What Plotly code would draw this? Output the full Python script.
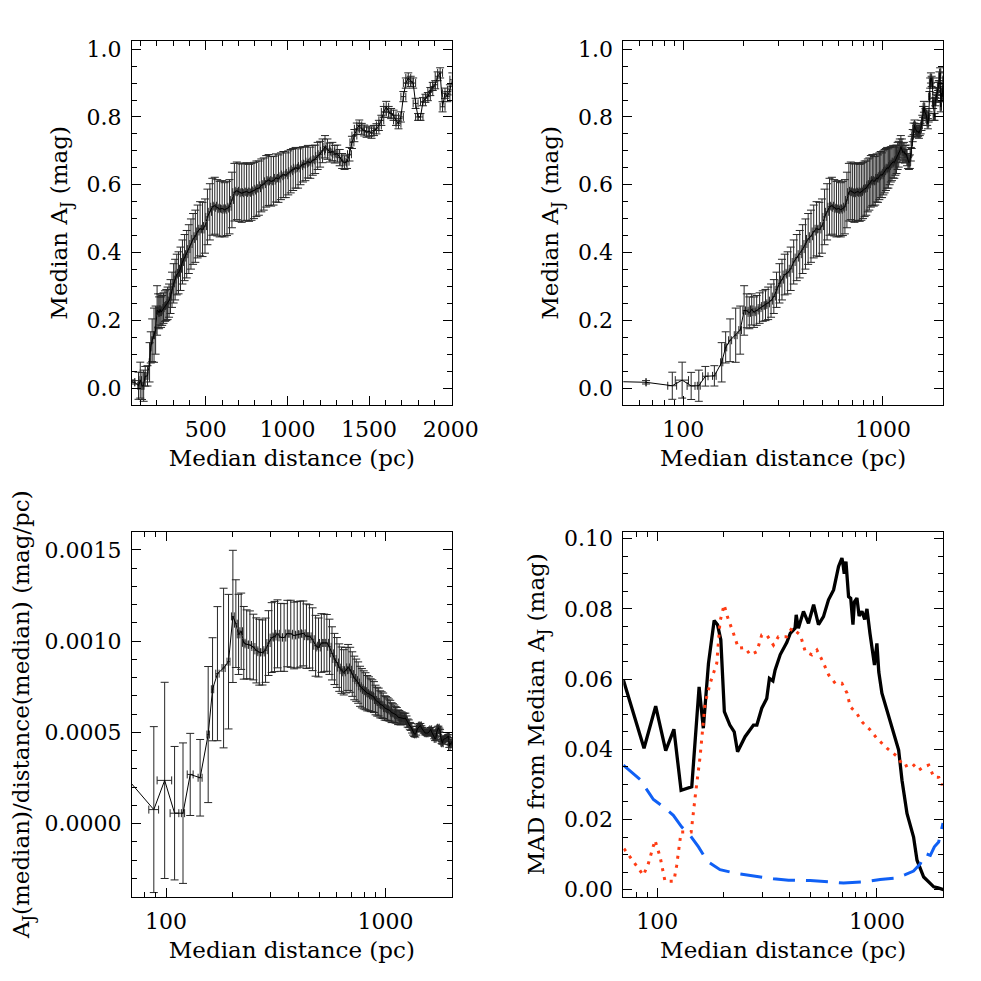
import math
import plotly.graph_objects as go

# ---------------- data: median extinction vs median distance ----------------
dist = [40, 65, 88, 98.6, 109.4, 119.5, 128.9, 143, 155.6, 162.9, 171.5, 182.9, 192.6, 201.6,
        208, 214, 220, 226, 233, 241, 250, 258, 266, 275, 284, 293, 303, 312, 322, 333, 345, 357,
        370, 383, 396, 409, 422, 436, 450, 465, 480, 495,
        510, 525, 540, 555, 570, 585, 600, 615, 630, 645,
        660, 675, 690, 705, 720, 735, 750, 765, 780, 795,
        810, 825, 840, 855, 870, 885, 900, 915, 930, 945,
        960, 975, 990, 1005, 1020, 1035, 1050, 1065, 1080, 1095,
        1110, 1125, 1140, 1155, 1170, 1185, 1200, 1215, 1230, 1245,
        1260, 1275, 1290, 1305, 1320, 1335, 1350, 1365, 1380, 1395,
        1410, 1425, 1440, 1455, 1470, 1485, 1500, 1515, 1530, 1545,
        1560, 1575, 1590, 1605, 1620, 1635, 1650, 1665, 1680, 1695,
        1710, 1725, 1740, 1755, 1770, 1785, 1800, 1815, 1830, 1845,
        1860, 1875, 1890, 1905, 1920, 1935, 1950, 1965, 1980, 1995,
        2010]

aj = [0.020, 0.017, 0.0068, 0.0234, 0.0063, 0.0069, 0.0348, 0.036, 0.076, 0.120, 0.141, 0.156, 0.171, 0.229,
      0.228, 0.222, 0.232, 0.224, 0.229, 0.236, 0.242, 0.245, 0.250, 0.258, 0.270, 0.290, 0.309, 0.320,
      0.335, 0.340, 0.352, 0.372, 0.385, 0.395, 0.410, 0.425, 0.440, 0.448, 0.462, 0.470, 0.468, 0.478,
      0.505, 0.520, 0.535, 0.538, 0.532, 0.528, 0.530, 0.526, 0.530, 0.535,
      0.555, 0.578, 0.582, 0.578, 0.575, 0.578, 0.580, 0.576, 0.579, 0.583,
      0.588, 0.590, 0.598, 0.602, 0.610, 0.614, 0.610, 0.612, 0.620, 0.618,
      0.625, 0.630, 0.628, 0.635, 0.640, 0.645, 0.650, 0.648, 0.655, 0.660,
      0.662, 0.668, 0.665, 0.672, 0.675, 0.685, 0.690, 0.700, 0.712, 0.705,
      0.695, 0.698, 0.690, 0.692, 0.680, 0.670, 0.665, 0.668, 0.690, 0.725,
      0.745, 0.765, 0.775, 0.765, 0.760, 0.755, 0.758, 0.752, 0.760, 0.765,
      0.775, 0.790, 0.815, 0.830, 0.815, 0.810, 0.805, 0.790, 0.780, 0.800,
      0.860, 0.900, 0.915, 0.905, 0.900, 0.840, 0.800, 0.800, 0.845, 0.855,
      0.860, 0.875, 0.890, 0.895, 0.920, 0.930, 0.830, 0.870, 0.860, 0.880,
      0.910]

aj_err = [0.004, 0.005, 0.040, 0.053, 0.040, 0.046, 0.029, 0.030, 0.058, 0.046, 0.063, 0.080, 0.071, 0.073,
          0.050, 0.047, 0.046, 0.045, 0.044, 0.045, 0.045, 0.046, 0.048, 0.049, 0.050, 0.052, 0.058, 0.060,
          0.060, 0.062, 0.064, 0.065, 0.068, 0.070, 0.072, 0.074, 0.075, 0.077, 0.078, 0.080, 0.080, 0.080,
          0.082, 0.083, 0.084, 0.084, 0.083, 0.082, 0.082, 0.080, 0.080, 0.080,
          0.082, 0.085, 0.085, 0.086, 0.086, 0.085, 0.085, 0.084, 0.084, 0.083,
          0.082, 0.080, 0.078, 0.077, 0.076, 0.075, 0.073, 0.072, 0.071, 0.070,
          0.069, 0.068, 0.066, 0.065, 0.064, 0.062, 0.060, 0.058, 0.055, 0.052,
          0.050, 0.048, 0.046, 0.044, 0.042, 0.040, 0.038, 0.035, 0.033, 0.030,
          0.028, 0.027, 0.026, 0.025, 0.024, 0.022, 0.020, 0.020, 0.020, 0.018,
          0.018, 0.017, 0.016, 0.016, 0.016, 0.015, 0.015, 0.015, 0.015, 0.015,
          0.015, 0.015, 0.016, 0.016, 0.016, 0.015, 0.015, 0.015, 0.015, 0.015,
          0.015, 0.015, 0.015, 0.015, 0.015, 0.015, 0.010, 0.010, 0.012, 0.012,
          0.012, 0.012, 0.012, 0.012, 0.013, 0.015, 0.015, 0.015, 0.015, 0.015,
          0.020]

dist_err = [0, 0, 4.5, 7.5, 5, 2, 4, 3, 2, 2, 3, 3, 3, 3,
            3, 3, 3, 3, 4, 4, 4, 4, 4, 5, 5, 5, 5, 5,
            6, 6, 6, 6, 7, 7, 7, 7, 8, 8, 8, 8, 9, 9,
            10, 10, 10, 10, 10, 10, 10, 10, 10, 10,
            10, 10, 10, 10, 10, 10, 10, 10, 10, 10,
            10, 10, 10, 10, 10, 10, 10, 10, 10, 10,
            12, 12, 12, 12, 12, 12, 12, 12, 12, 12,
            12, 12, 12, 12, 12, 12, 12, 12, 12, 12,
            12, 12, 12, 12, 12, 12, 12, 12, 12, 12,
            15, 15, 15, 15, 15, 15, 15, 15, 15, 15,
            15, 15, 15, 15, 15, 15, 15, 15, 15, 15,
            15, 15, 15, 15, 15, 15, 15, 15, 15, 15,
            15, 15, 15, 15, 15, 15, 15, 15, 15, 15,
            15]

# ---------------- data: MAD from median A_J ----------------
mad_black_d = [70, 87, 98.3, 109.2, 119, 128.3, 143.5, 155, 162, 171, 181.5, 188, 194.6, 202, 214, 224,
               232, 251, 274, 284, 299, 315, 324, 336, 344, 363, 389, 403, 424, 429, 439, 463, 488,
               515, 542, 571, 602, 635, 669, 693, 700, 710, 723, 743, 760, 778, 790, 811, 830, 855,
               880, 901, 930, 960, 975, 1000, 1020, 1054, 1111, 1191, 1256, 1301, 1371, 1469, 1523,
               1633, 1815, 1900, 1982, 2010]
mad_black = [0.0598, 0.0403, 0.0523, 0.0396, 0.0457, 0.0283, 0.0293, 0.0578, 0.0460, 0.0645, 0.0767,
             0.0755, 0.0712, 0.0507, 0.0469, 0.0450, 0.0393, 0.0436, 0.0469, 0.0469, 0.0517, 0.0545,
             0.0602, 0.0595, 0.0626, 0.0670, 0.0705, 0.0730, 0.0745, 0.0783, 0.0745, 0.0793, 0.0759,
             0.0812, 0.0755, 0.0778, 0.0826, 0.0854, 0.0921, 0.0945, 0.0930, 0.0900, 0.0935, 0.0835,
             0.0830, 0.0755, 0.0820, 0.0831, 0.0780, 0.0793, 0.0770, 0.0800, 0.0730, 0.0664, 0.0640,
             0.0702, 0.0620, 0.0560, 0.0512, 0.0445, 0.0398, 0.0312, 0.0217, 0.0150, 0.0084, 0.0036,
             0.0008, 0.0005, 0.0000, 0.0000]

mad_red_d = [70.5, 77.8, 86.4, 91, 97.6, 103, 108.4, 119, 122.5, 128.3, 142.6, 148.7, 156.6, 165, 174,
             186.5, 193, 201.5, 208.5, 222, 234, 251, 265, 284, 299, 315, 338, 356, 389, 410, 448, 472,
             506, 533, 562, 603, 646, 693, 731, 757, 811, 855, 933, 1000, 1111, 1235, 1325, 1445, 1549,
             1633, 1722, 1815, 1914, 1982, 2000]
mad_red = [0.0117, 0.0079, 0.0041, 0.0074, 0.0141, 0.0093, 0.0024, 0.0024, 0.0069, 0.0164, 0.0164,
           0.0264, 0.0379, 0.0531, 0.0588, 0.0645, 0.0764, 0.0812, 0.0778, 0.0731, 0.0688, 0.0690,
           0.0669, 0.0678, 0.0726, 0.0726, 0.0697, 0.0721, 0.0721, 0.0745, 0.0726, 0.0678, 0.0669,
           0.0683, 0.0655, 0.0612, 0.0588, 0.0588, 0.0560, 0.0521, 0.0502, 0.0478, 0.0455, 0.0431,
           0.0403, 0.0380, 0.0350, 0.0360, 0.0340, 0.0350, 0.0355, 0.0321, 0.0320, 0.0298, 0.0310]

mad_blue_d = [70, 83.4, 96, 106.5, 118.3, 129, 141, 154, 169, 193, 230, 274, 338, 396, 497, 705, 869,
              1035, 1213, 1346, 1469, 1577, 1663, 1751, 1827, 1911, 1982, 2000]
mad_blue = [0.0355, 0.0314, 0.0257, 0.0236, 0.0212, 0.0179, 0.0155, 0.0122, 0.0081, 0.0057, 0.0046,
            0.0039, 0.0031, 0.0027, 0.0026, 0.0019, 0.0022, 0.0029, 0.0033, 0.0043, 0.0053, 0.0074,
            0.0103, 0.0098, 0.0122, 0.0136, 0.0179, 0.0190]

# tick labels
lin_x_ticks = [500, 1000, 1500, 2000]
log_x_ticks = [100, 1000]
log_minor = [50, 60, 70, 80, 90, 200, 300, 400, 500, 600, 700, 800, 900, 2000]

# derived quantity for lower-left panel: A_J(median)/distance(median)
ratio = [a / d for a, d in zip(aj, dist)]
ratio_err = [e / d for e, d in zip(aj_err, dist)]

FONT = "DejaVu Serif"
W = H = 965          # page body has an 8px margin
OFF = 8


def dom(a, b):
    return [(a - OFF) / W, (b - OFF) / W]


def ydom(top, bottom):
    return [1 - (bottom - OFF) / H, 1 - (top - OFF) / H]


tickfont = dict(family=FONT, size=22, color="black")
titlefont = dict(family=FONT, size=23, color="black")

base_axis = dict(showline=True, linecolor="black", linewidth=1, mirror="allticks",
                 ticks="inside", ticklen=9, tickwidth=1, tickcolor="black",
                 showgrid=False, zeroline=False, tickfont=tickfont, automargin=False,
                 ticklabelstandoff=5)


def minor(**kw):
    d = dict(ticks="inside", ticklen=5, tickwidth=1, tickcolor="black", showgrid=False)
    d.update(kw)
    return d


err_style = dict(color="#262626", thickness=1, width=4)

fig = go.Figure()

# panel 1: linear distance
fig.add_trace(go.Scatter(x=dist, y=aj, mode="lines", line=dict(color="black", width=1),
                         error_y=dict(type="data", array=aj_err, **err_style),
                         error_x=dict(type="data", array=dist_err, **err_style),
                         xaxis="x", yaxis="y", showlegend=False))
# panel 2: log distance
fig.add_trace(go.Scatter(x=dist, y=aj, mode="lines", line=dict(color="black", width=1),
                         error_y=dict(type="data", array=aj_err, **err_style),
                         error_x=dict(type="data", array=dist_err, **err_style),
                         xaxis="x2", yaxis="y2", showlegend=False))
# panel 3: ratio
fig.add_trace(go.Scatter(x=dist, y=ratio, mode="lines", line=dict(color="black", width=1),
                         error_y=dict(type="data", array=ratio_err, **err_style),
                         error_x=dict(type="data", array=dist_err, **err_style),
                         xaxis="x3", yaxis="y3", showlegend=False))
# panel 4: MAD curves
fig.add_trace(go.Scatter(x=mad_black_d, y=mad_black, mode="lines",
                         line=dict(color="black", width=3.3),
                         xaxis="x4", yaxis="y4", showlegend=False))
fig.add_trace(go.Scatter(x=mad_red_d, y=mad_red, mode="lines",
                         line=dict(color="#ff3c14", width=3, dash="3px,6px"),
                         xaxis="x4", yaxis="y4", showlegend=False))
fig.add_trace(go.Scatter(x=mad_blue_d, y=mad_blue, mode="lines",
                         line=dict(color="#1060f5", width=3, dash="22px,11px"),
                         xaxis="x4", yaxis="y4", showlegend=False))

xt = "Median distance (pc)"
L1, R1 = 132, 451.7
L2, R2 = 623.3, 943
T1, B1 = 40.7, 405
T2, B2 = 531.7, 896.7

fig.update_layout(
    width=W, height=H, margin=dict(l=0, r=0, t=0, b=0),
    paper_bgcolor="white", plot_bgcolor="white",
    font=dict(family=FONT, color="black"),
    xaxis=dict(base_axis, domain=dom(L1, R1), anchor="y", range=[48, 2006],
               tickvals=lin_x_ticks, minor=minor(dtick=100),
               title=dict(text=xt, font=titlefont, standoff=8)),
    yaxis=dict(base_axis, domain=ydom(T1, B1), anchor="x", range=[-0.05, 1.025],
               dtick=0.2, tickformat=".1f", minor=minor(dtick=0.05),
               title=dict(text="Median A<sub>J</sub> (mag)", font=titlefont, standoff=12)),
    xaxis2=dict(base_axis, domain=dom(L2, R2), anchor="y2", type="log",
                range=[math.log10(50), math.log10(2000)],
                tickvals=log_x_ticks, ticktext=[str(v) for v in log_x_ticks],
                minor=minor(tickvals=log_minor),
                title=dict(text=xt, font=titlefont, standoff=8)),
    yaxis2=dict(base_axis, domain=ydom(T1, B1), anchor="x2", range=[-0.05, 1.025],
                dtick=0.2, tickformat=".1f", minor=minor(dtick=0.05),
                title=dict(text="Median A<sub>J</sub> (mag)", font=titlefont, standoff=12)),
    xaxis3=dict(base_axis, domain=dom(L1, R1), anchor="y3", type="log",
                range=[math.log10(70), math.log10(2000)],
                tickvals=log_x_ticks, ticktext=[str(v) for v in log_x_ticks],
                minor=minor(tickvals=log_minor),
                title=dict(text=xt, font=titlefont, standoff=8)),
    yaxis3=dict(base_axis, domain=ydom(T2, B2), anchor="x3", range=[-0.0004, 0.0016],
                dtick=0.0005, tickformat=".4f", minor=minor(dtick=0.0001),
                title=dict(text="A<sub>J</sub>(median)/distance(median) (mag/pc)",
                           font=titlefont, standoff=12)),
    xaxis4=dict(base_axis, domain=dom(L2, R2), anchor="y4", type="log",
                range=[math.log10(70), math.log10(2000)],
                tickvals=log_x_ticks, ticktext=[str(v) for v in log_x_ticks],
                minor=minor(tickvals=log_minor),
                title=dict(text=xt, font=titlefont, standoff=8)),
    yaxis4=dict(base_axis, domain=ydom(T2, B2), anchor="x4", range=[-0.002, 0.102],
                dtick=0.02, tickformat=".2f", minor=minor(dtick=0.005),
                title=dict(text="MAD from Median A<sub>J</sub> (mag)", font=titlefont, standoff=12)),
)

fig.write_html("out.html")
